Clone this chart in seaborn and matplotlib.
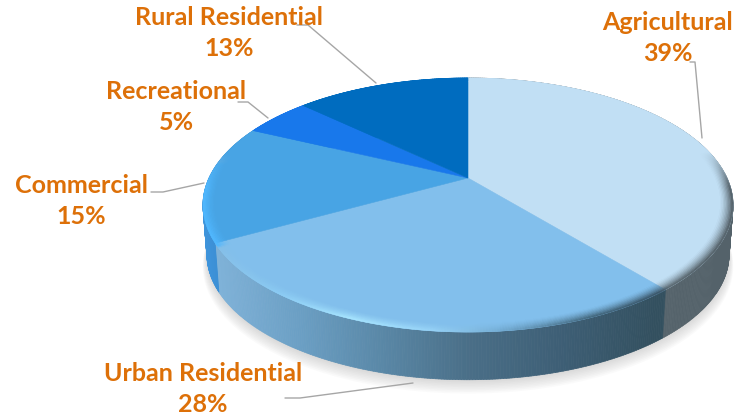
import numpy as np
import matplotlib
matplotlib.use("Agg")
import matplotlib.pyplot as plt
from matplotlib.collections import PolyCollection
from matplotlib.colors import to_rgb
from matplotlib.path import Path
from matplotlib.transforms import Affine2D, Transform
import seaborn as sns

categories = ["Agricultural", "Urban Residential", "Commercial", "Recreational", "Rural Residential"]
shares = [39, 28, 15, 5, 13]

top_colors = ["#C1DFF4", "#82BFEC", "#48A4E4", "#1878EB", "#006CBF"]

sns.set_theme(style="white")
plt.rcParams["font.family"] = ["Lato", "DejaVu Sans"]
palette = sns.color_palette(top_colors)

# projection of the unit pie onto the tilted disc
CX, CY, A, B, K = 468.0, 178.0, 259.0, 121.3, 0.2126
DEPTH, SHRINK = 50.0, 0.985


def project(x, y):
    w = 1 + K * y
    return CX + A * x / w, CY - B * y / w


def project_base(x, y, extra=0.0, grow=1.0):
    u, v = project(x, y)
    return CX + SHRINK * grow * (u - CX), CY + SHRINK * grow * (v - CY) + DEPTH + extra


class Tilt(Transform):
    input_dims = output_dims = 2

    def transform_non_affine(self, xy):
        u, v = project(xy[:, 0], xy[:, 1])
        return np.column_stack([u, v])

    def transform_path_non_affine(self, path):
        polys = path.to_polygons(Affine2D().scale(600), closed_only=True)
        verts = np.vstack(polys) / 600
        return Path(self.transform_non_affine(verts), closed=False)


def ramp(stops, u):
    xs = [s[0] for s in stops]
    rgb = np.array([to_rgb(s[1]) for s in stops])
    return np.column_stack([np.interp(u, xs, rgb[:, i]) for i in range(3)])


wall_stops = [
    [(657, "#56646C"), (733, "#54626A")],
    [(218, "#7FB2D8"), (300, "#6B9FC4"), (370, "#5C8BAB"), (468, "#4A6F88"),
     (560, "#3E5F76"), (657, "#33505F")],
    [(203, "#3F95DC"), (225, "#3A8BD0")],
    [(203, "#1878EB"), (300, "#1878EB")],
    [(300, "#006CBF"), (470, "#006CBF")],
]
rim_stops = [(203, "#50B8FF"), (217, "#52B8FF"), (219, "#86C0E8"), (280, "#8CCCF4"),
             (350, "#A8E6FF"), (430, "#98D4F8"), (500, "#74ADD4"), (590, "#44697F"),
             (660, "#3A5568"), (670, "#5A6870"), (733, "#55626A")]

fig = plt.figure(figsize=(7.34, 4.18), dpi=100)
ax = fig.add_axes([0, 0, 1, 1])
wedges, _ = ax.pie(shares, colors=palette, startangle=90, counterclock=False,
                   wedgeprops=dict(linewidth=0.4), normalize=True)
ax.set_aspect("auto")
ax.set_xlim(0, 734)
ax.set_ylim(418, 0)
ax.axis("off")

tilt = Tilt() + ax.transData
for i, w in enumerate(wedges):
    w.set_transform(tilt)
    w.set_edgecolor(palette[i])
    w.set_zorder(5)

# soft drop shadow
full = np.radians(np.linspace(0, 360, 361))
for n in range(9):
    sx, sy = project_base(np.cos(full), np.sin(full), extra=1 + n * 1.3, grow=1.0 + 0.002 * n)
    ax.fill(sx, sy, color="#808080", alpha=0.035, lw=0, zorder=1)

# side walls and bevelled rim, one thin strip per degree fraction of each slice
for i, w in enumerate(wedges):
    th = np.radians(np.arange(w.theta1, w.theta2 + 0.25, 0.5))
    th[-1] = np.radians(w.theta2)
    cs, sn = np.cos(th), np.sin(th)
    ut, vt = project(cs, sn)
    ub, vb = project_base(cs, sn)
    quads = []
    for j in range(len(th) - 1):
        quads.append([(ut[j], vt[j]), (ut[j + 1], vt[j + 1]), (ub[j + 1], vb[j + 1]), (ub[j], vb[j])])
    mids = 0.5 * (ut[:-1] + ut[1:])
    wall_cols = ramp(wall_stops[i], mids)
    ax.add_collection(PolyCollection(quads, facecolors=wall_cols, edgecolors=wall_cols,
                                     linewidths=0.5, zorder=3))

    face = np.array(to_rgb(top_colors[i]))
    radii = np.linspace(0.955, 1.0, 10)
    quads, cols = [], []
    for k in range(len(radii) - 1):
        t = ((k + 1) / (len(radii) - 1)) ** 1.5
        ui, vi = project(radii[k] * cs, radii[k] * sn)
        uo, vo = project(radii[k + 1] * cs, radii[k + 1] * sn)
        for j in range(len(th) - 1):
            um = 0.5 * (ut[j] + ut[j + 1])
            fade = np.clip((0.22 - sn[j]) / 0.3, 0, 1)
            target = ramp(rim_stops, np.array([um]))[0]
            quads.append([(ui[j], vi[j]), (ui[j + 1], vi[j + 1]), (uo[j + 1], vo[j + 1]), (uo[j], vo[j])])
            cols.append(face + (target - face) * t * fade)
    ax.add_collection(PolyCollection(quads, facecolors=cols, edgecolors=cols, linewidths=0.3, zorder=6))

# labels and leader lines
label_pos = [(668, 38), (203, 389), (81, 201), (176, 107), (229, 33)]
leaders = [
    [(690, 62), (695, 62), (702, 138)],
    [(285, 398), (300, 398), (413, 383)],
    [(151, 192), (163, 192), (204, 183)],
    [(238, 102), (248, 102), (268, 118)],
    [(297, 25), (308, 25), (376, 83)],
]
for name, val, pos, line in zip(categories, shares, label_pos, leaders):
    xs, ys = zip(*line)
    ax.plot(xs, ys, color="#A6A6A6", lw=1.0, zorder=7, solid_capstyle="round")
    ax.text(pos[0], pos[1], f"{name}\n{val}%", ha="center", va="center", ma="center",
            color="#DD7008", fontsize=18, fontweight="bold", linespacing=1.47, zorder=8)

fig.savefig("out.png", dpi=100, facecolor="white")
